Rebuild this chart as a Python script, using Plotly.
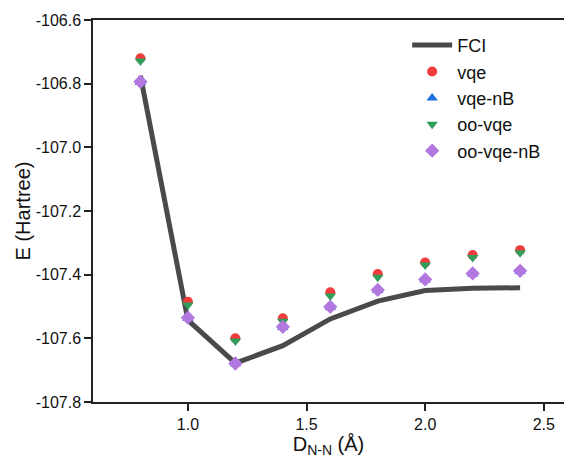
import plotly.graph_objects as go

distance = [0.8, 1.0, 1.2, 1.4, 1.6, 1.8, 2.0, 2.2, 2.4]
fci = [-106.775, -107.543, -107.678, -107.623, -107.539, -107.483, -107.450, -107.443, -107.441]
vqe = [-106.720, -107.485, -107.600, -107.537, -107.455, -107.398, -107.362, -107.338, -107.323]
vqe_nb = [-106.796, -107.537, -107.680, -107.566, -107.503, -107.450, -107.417, -107.398, -107.390]
oo_vqe = [-106.729, -107.495, -107.608, -107.546, -107.467, -107.408, -107.370, -107.346, -107.331]
oo_vqe_nb = [-106.794, -107.535, -107.679, -107.564, -107.501, -107.448, -107.415, -107.396, -107.388]

x_ticks = [1.0, 1.5, 2.0, 2.5]
x_tick_labels = ["1.0", "1.5", "2.0", "2.5"]
y_ticks = [-107.8, -107.6, -107.4, -107.2, -107.0, -106.8, -106.6]
y_tick_labels = ["-107.8", "-107.6", "-107.4", "-107.2", "-107.0", "-106.8", "-106.6"]

fig = go.Figure()
fig.add_trace(go.Scatter(x=distance, y=fci, mode="lines", name="FCI",
                         line=dict(color="#4a4a4a", width=5)))
fig.add_trace(go.Scatter(x=distance, y=vqe, mode="markers", name="vqe",
                         marker=dict(symbol="circle", size=10, color="#f03c3c")))
fig.add_trace(go.Scatter(x=distance, y=vqe_nb, mode="markers", name="vqe-nB",
                         marker=dict(symbol="triangle-up", size=10, color="#1f6fe0")))
fig.add_trace(go.Scatter(x=distance, y=oo_vqe, mode="markers", name="oo-vqe",
                         marker=dict(symbol="triangle-down", size=10, color="#2e9e5b")))
fig.add_trace(go.Scatter(x=distance, y=oo_vqe_nb, mode="markers", name="oo-vqe-nB",
                         marker=dict(symbol="diamond", size=11, color="#b377e0")))

axis_common = dict(showgrid=False, zeroline=False, showline=True, linecolor="#222222",
                   linewidth=1.5, ticks="outside", ticklen=7, tickwidth=1.5,
                   tickcolor="#222222", tickfont=dict(size=16, color="#111111"),
                   automargin=False)

fig.update_layout(
    width=564, height=463,
    margin=dict(l=93, r=0, t=20, b=61),
    paper_bgcolor="white", plot_bgcolor="white",
    font=dict(family="Liberation Sans, Arial, sans-serif", color="#111111"),
    showlegend=True,
    legend=dict(x=0.667, y=0.982, xanchor="left", yanchor="top",
                font=dict(size=18), bgcolor="rgba(0,0,0,0)", tracegroupgap=0,
                itemwidth=40),
    xaxis=dict(range=[0.6, 2.585], tickvals=x_ticks, ticktext=x_tick_labels,
               mirror=True,
               title=dict(text="D<sub>N-N</sub> (Å)", font=dict(size=20), standoff=0),
               **axis_common),
    yaxis=dict(range=[-107.8, -106.6], tickvals=y_ticks, ticktext=y_tick_labels,
               title=dict(text="E (Hartree)", font=dict(size=20), standoff=0),
               **axis_common),
)

fig.write_html("out.html", config={"displayModeBar": False},
               post_script="document.body.style.margin='0';")
